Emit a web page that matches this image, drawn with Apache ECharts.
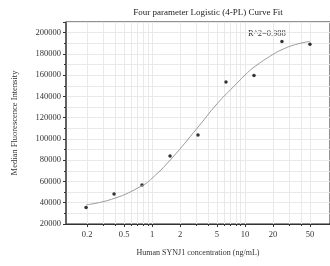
<!DOCTYPE html>
<html>
<head>
<meta charset="utf-8">
<script src="https://cdn.jsdelivr.net/npm/echarts@6/dist/echarts.min.js"></script>
<style>
  html, body { margin: 0; padding: 0; background: #fff; }
  #chart { width: 330px; height: 266px; }
</style>
</head>
<body>
<div id="chart"></div>
<script>
// measured points (concentration ng/mL, MFI)
const conc = [0.195, 0.39, 0.78, 1.5625, 3.125, 6.25, 12.5, 25, 50];
const mfi = [35600, 48200, 56650, 83900, 103650, 153460, 159660, 191600, 189170];

// fitted curve
const curveConc = [0.195, 0.39, 0.78, 1.0, 1.6, 3.15, 5.0, 7.5, 10, 12.5, 20, 25, 35, 50];
const curveMfi = [38000, 44000, 56000, 63000, 81000, 111500, 133000, 149000, 160000, 167500, 179500, 184000, 188800, 191800];

const xMajor = [0.2, 0.5, 1, 2, 5, 10, 20, 50];
const xMinor = [0.3, 0.4, 0.6, 0.7, 0.8, 0.9, 3, 4, 6, 7, 8, 9, 30, 40];
const xGrid = [0.2, 0.3, 0.4, 0.5, 0.6, 0.7, 0.8, 0.9, 1, 2, 3, 4, 5, 6, 7, 8, 9, 10, 20, 30, 40, 50];

const lg = v => Math.log10(v);
const xMin = lg(0.1186), xMax = 1.915;
const font = 'Liberation Serif';

let chart = echarts.init(document.getElementById('chart'));

let baseX = {
  type: 'value', min: xMin, max: xMax, position: 'bottom',
  splitLine: { show: false },
  axisLine: { show: false, onZero: false },
  axisLabel: { show: false }
};

chart.setOption({
  animation: false,
  title: {
    text: 'Four parameter Logistic (4-PL) Curve Fit',
    left: 203, top: 3, textAlign: 'center',
    textStyle: { fontFamily: font, fontSize: 9, fontWeight: 'normal', color: '#222' }
  },
  graphic: [{
    type: 'text', left: 248, top: 29,
    style: { text: 'R^2=0.988', fontFamily: font, fontSize: 8.5, fill: '#333' }
  }],
  grid: { left: 66, top: 22, bottom: 42, right: -10, show: true, borderColor: '#222', borderWidth: 1 },
  xAxis: [
    {
      type: 'value', min: xMin, max: xMax, position: 'bottom',
      name: 'Human SYNJ1 concentration (ng/mL)', nameLocation: 'middle', nameGap: 25,
      nameTextStyle: { fontFamily: font, fontSize: 8, color: '#333' },
      splitLine: { show: false },
      axisLine: { onZero: false, lineStyle: { color: '#333', width: 1 } },
      axisTick: { customValues: xMajor.map(lg), length: 3, lineStyle: { color: '#333' } },
      axisLabel: {
        customValues: xMajor.map(lg), fontFamily: font, fontSize: 8.5, color: '#333', margin: 6,
        formatter: v => String(Number(Math.pow(10, v).toPrecision(3)))
      }
    },
    Object.assign({}, baseX, {
      axisTick: { customValues: xGrid.map(lg), inside: true, length: 202, lineStyle: { color: '#e9e9e9' } }
    }),
    Object.assign({}, baseX, {
      axisTick: { customValues: xMinor.map(lg), length: 2, lineStyle: { color: '#333' } }
    })
  ],
  yAxis: {
    type: 'value', min: 20000, max: 210000, interval: 20000,
    name: 'Median Fluorescence Intensity', nameLocation: 'middle', nameGap: 47,
    nameTextStyle: { fontFamily: font, fontSize: 8.5, color: '#333' },
    axisLine: { show: true, onZero: false, lineStyle: { color: '#555', width: 1.5 } },
    axisTick: { show: true, length: 3, lineStyle: { color: '#333' } },
    minorTick: { show: true, splitNumber: 2, length: 2, lineStyle: { color: '#333' } },
    splitLine: { show: true, lineStyle: { color: '#e9e9e9' } },
    minorSplitLine: { show: true, lineStyle: { color: '#e9e9e9' } },
    axisLabel: {
      fontFamily: font, fontSize: 8.5, color: '#333', margin: 5, showMaxLabel: false,
      formatter: v => String(v)
    }
  },
  series: [
    {
      type: 'line', name: 'fit', smooth: true, showSymbol: false,
      lineStyle: { color: '#9a9a9a', width: 1 },
      data: curveConc.map((c, i) => [lg(c), curveMfi[i]])
    },
    {
      type: 'scatter', name: 'data', symbolSize: 3.5,
      itemStyle: { color: '#000' },
      data: conc.map((c, i) => [lg(c), mfi[i]])
    }
  ]
});
</script>
</body>
</html>
